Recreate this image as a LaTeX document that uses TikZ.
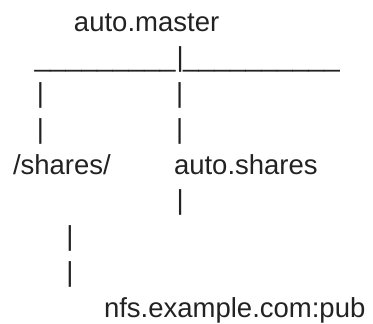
\documentclass[tikz,border=0pt]{standalone}
\usepackage{fontspec}
\setmainfont{Liberation Sans}
\usepackage{xcolor}
\usepackage{tikz}
\definecolor{inkGray}{HTML}{222222}
\begin{document}
\begin{tikzpicture}[x=1pt,y=-1pt]
    \tikzset{txt/.style={anchor=base west,inner sep=0pt,outer sep=0pt,text=inkGray,font=\fontsize{27.5}{33}\selectfont}, rulepart/.style={txt,font=\fontsize{28.2}{33}\selectfont}}
    \useasboundingbox (0,0) rectangle (373,324);
    \node[txt] (master) at (74,31) {auto.master};
    \node[rulepart] (ruleL) at (34.5,66.75) {\_\_\_\_\_\_\_\_\_};
    \node[txt] (ruleBar) at (176.5,66.75) {|};
    \node[rulepart] (ruleR) at (183,66.75) {\_\_\_\_\_\_\_\_\_\_};
    \node[txt] (barAl) at (37,102.5) {|};
    \node[txt] (barAr) at (176,102.5) {|};
    \node[txt] (barBl) at (37,138.25) {|};
    \node[txt] (barBr) at (176,138.25) {|};
    \node[txt] (shares) at (13,174) {/shares/};
    \node[txt] (autoshares) at (174,174) {auto.shares};
    \node[txt] (barC) at (176.5,209.75) {|};
    \node[txt] (barDl) at (66.5,245.5) {|};
    \node[txt] (barEl) at (66.5,281.25) {|};
    \node[txt] (nfs) at (104,317) {nfs.example.com:pub};
  \end{tikzpicture}
\end{document}
